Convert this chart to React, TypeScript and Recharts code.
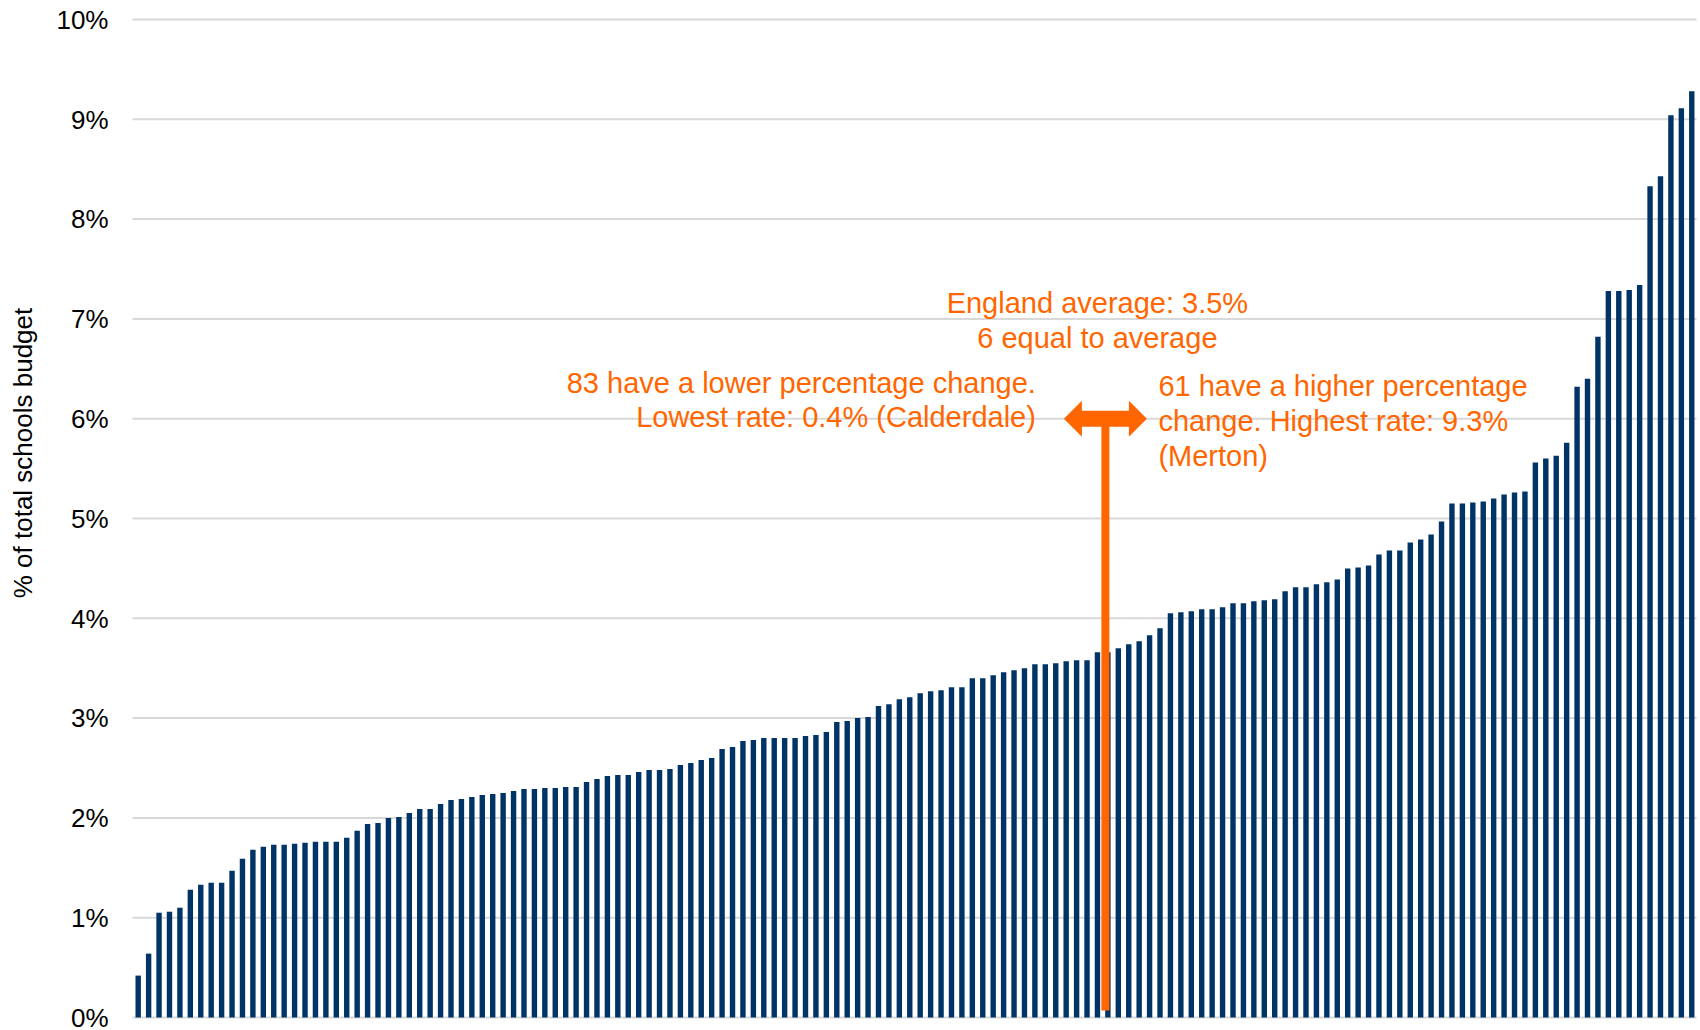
import { BarChart, Bar, XAxis, YAxis, CartesianGrid, ReferenceLine } from 'recharts';

// % change for each local authority, sorted lowest to highest
const shares = [
  0.42, 0.64, 1.05, 1.06, 1.1, 1.28, 1.33, 1.35, 1.35, 1.47, 1.59, 1.68, 1.71, 1.73, 1.73, 1.74, 1.75, 1.76, 1.76, 1.76, 1.8, 1.87, 1.94, 1.95, 2.0,
  2.01, 2.05, 2.09, 2.09, 2.14, 2.18, 2.19, 2.21, 2.23, 2.24, 2.25, 2.27, 2.29, 2.29, 2.3, 2.3, 2.31, 2.31, 2.36, 2.39, 2.42, 2.43, 2.43, 2.46, 2.48,
  2.48, 2.49, 2.53, 2.55, 2.58, 2.6, 2.69, 2.71, 2.77, 2.78, 2.8, 2.8, 2.8, 2.8, 2.82, 2.83, 2.86, 2.96, 2.97, 3.0, 3.01, 3.12, 3.14, 3.19, 3.21,
  3.25, 3.27, 3.28, 3.31, 3.31, 3.4, 3.4, 3.43, 3.46, 3.48, 3.5, 3.54, 3.54, 3.55, 3.57, 3.58, 3.58, 3.66, 3.66, 3.7, 3.74, 3.77, 3.83, 3.9, 4.05,
  4.06, 4.07, 4.09, 4.09, 4.11, 4.15, 4.15, 4.17, 4.18, 4.19, 4.27, 4.31, 4.31, 4.34, 4.36, 4.39, 4.5, 4.51, 4.53, 4.64, 4.68, 4.68, 4.76, 4.79, 4.84,
  4.97, 5.15, 5.15, 5.16, 5.17, 5.2, 5.24, 5.26, 5.27, 5.56, 5.6, 5.63, 5.76, 6.32, 6.4, 6.82, 7.28, 7.28, 7.29, 7.34, 8.33, 8.43, 9.04, 9.11, 9.28,
];

// rank of each authority (category axis)
const ranks = shares.map((_, i) => i + 1);

const yTicks = [0, 1, 2, 3, 4, 5, 6, 7, 8, 9, 10];

// marker for the England average
const averageRank = 94;
const averageTop = 6;
const averageBottom = 0.07;

const averageLines = ['England average: 3.5%', '6 equal to average'];
const lowerLines = ['83 have a lower percentage change.', 'Lowest rate: 0.4% (Calderdale)'];
const higherLines = ['61 have a higher percentage', 'change. Highest rate: 9.3%', '(Merton)'];

const NAVY = '#003366';
const ORANGE = '#FF6600';
const FONT = '"Liberation Sans", Arial, sans-serif';

const data = ranks.map((rank, i) => ({ rank, share: shares[i] }));

const AverageMarker = (props: any) => {
  const { x1, y1, x2, y2 } = props;
  const cx = (x1 + x2) / 2 - 2;
  const cy = Math.min(y1, y2);
  const bottom = Math.max(y1, y2);
  const w = 41.5;
  const head = 18;
  const a = 18;
  const s = 8;
  const pts = [
    [cx - w, cy],
    [cx - w + head, cy - a],
    [cx - w + head, cy - s],
    [cx + w - head, cy - s],
    [cx + w - head, cy - a],
    [cx + w, cy],
    [cx + w - head, cy + a],
    [cx + w - head, cy + s],
    [cx - w + head, cy + s],
    [cx - w + head, cy + a],
  ]
    .map((p) => p.join(','))
    .join(' ');
  const textStyle = { fontFamily: FONT, fontSize: 29, fill: ORANGE };
  return (
    <g>
      <line x1={cx} x2={cx} y1={cy} y2={bottom} stroke={ORANGE} strokeWidth={8} />
      <polygon points={pts} fill={ORANGE} />
      {averageLines.map((t, i) => (
        <text key={t} x={cx - 8} y={cy - 105.5 + i * 35} textAnchor="middle" style={textStyle}>
          {t}
        </text>
      ))}
      {lowerLines.map((t, i) => (
        <text key={t} x={cx - 69.5} y={cy - 26 + i * 34.5} textAnchor="end" style={textStyle}>
          {t}
        </text>
      ))}
      {higherLines.map((t, i) => (
        <text key={t} x={cx + 53} y={cy - 22.7 + i * 35} textAnchor="start" style={textStyle}>
          {t}
        </text>
      ))}
    </g>
  );
};

const AxisTitle = () => (
  <text
    transform="translate(23,453) rotate(-90)"
    textAnchor="middle"
    dominantBaseline="central"
    style={{ fontFamily: FONT, fontSize: 26, fill: '#000' }}
  >
    % of total schools budget
  </text>
);

export default function App() {
  return (
    <div style={{ position: 'absolute', left: 0, top: 0, background: '#fff' }}>
      <BarChart
        width={1700}
        height={1030}
        data={data}
        margin={{ top: 19.5, right: 3.5, bottom: 12.5, left: 0 }}
        style={{ fontFamily: FONT }}
      >
        <CartesianGrid vertical={false} stroke="#d9d9d9" strokeWidth={2} />
        <XAxis dataKey="rank" hide />
        <YAxis
          width={132.5}
          domain={[0, 10]}
          ticks={yTicks}
          interval={0}
          axisLine={false}
          tickLine={false}
          tickSize={0}
          tickMargin={24}
          tick={{ fontSize: 26, fill: '#000', fontFamily: FONT }}
          tickFormatter={(v) => `${v}%`}
          label={{ content: () => <AxisTitle /> }}
        />
        <Bar dataKey="share" fill={NAVY} barSize={5.4} isAnimationActive={false} />
        <ReferenceLine
          segment={[
            { x: averageRank, y: averageBottom },
            { x: averageRank, y: averageTop },
          ]}
          shape={AverageMarker}
        />
      </BarChart>
    </div>
  );
}
